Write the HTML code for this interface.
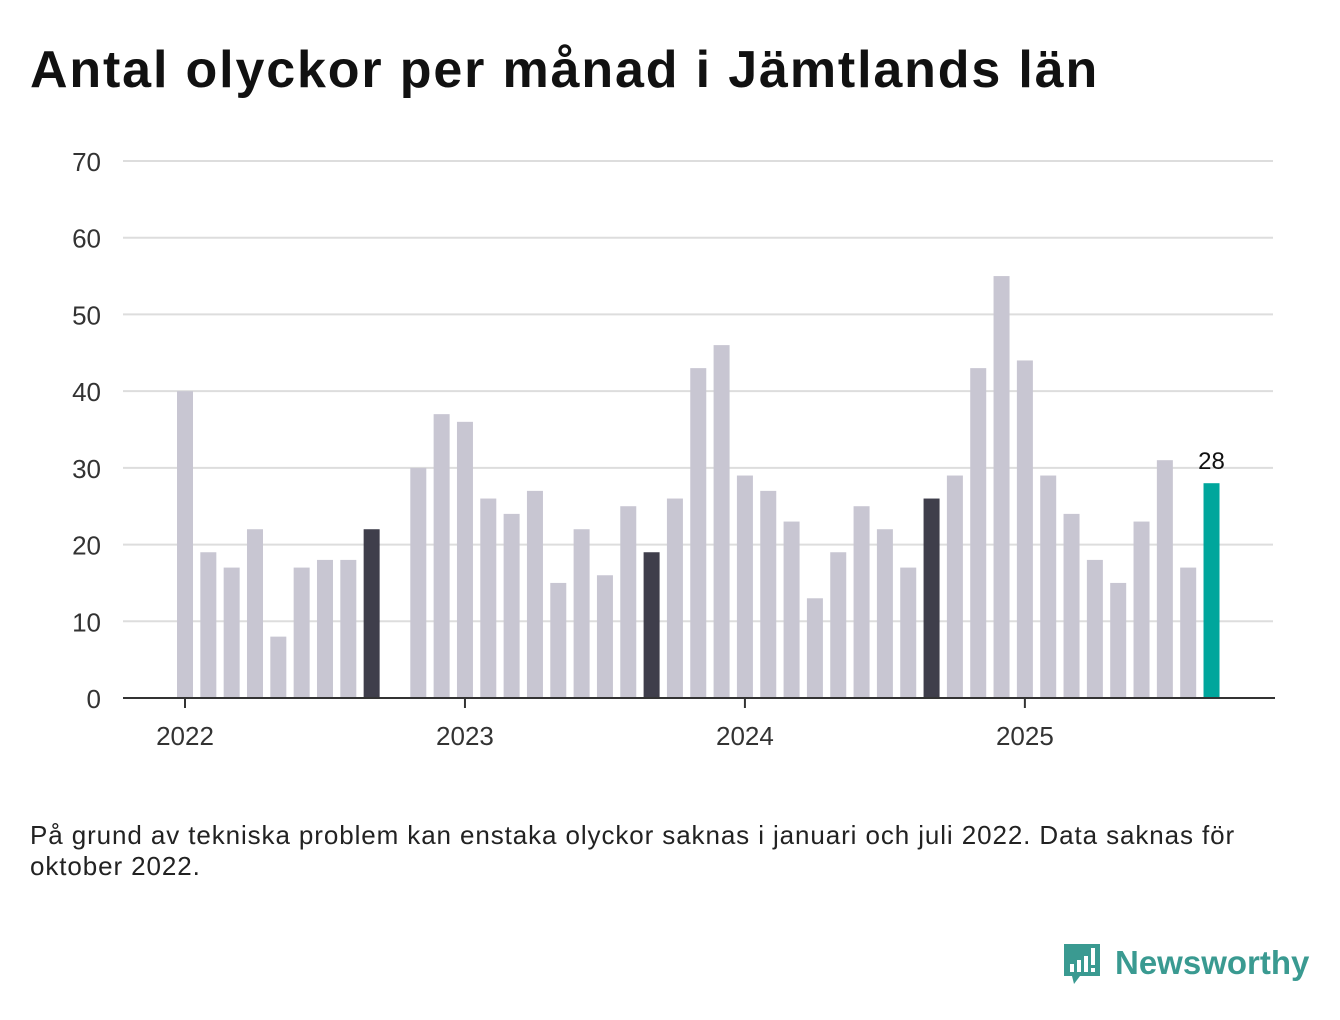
<!DOCTYPE html>
<html><head><meta charset="utf-8"><style>
body{margin:0;width:1340px;height:1020px;background:#fff;font-family:"Liberation Sans",sans-serif;overflow:hidden;position:relative}
h1{position:absolute;left:30px;top:40px;margin:0;font-size:52px;font-weight:bold;color:#111;letter-spacing:1.85px}
#note{position:absolute;left:30px;top:820px;font-size:26px;color:#222;line-height:31px;width:1260px;letter-spacing:0.9px}
#logo{position:absolute;left:1062px;top:942px}
</style></head><body>
<h1>Antal olyckor per månad i Jämtlands län</h1>
<svg id="chart" width="1340" height="1020" style="position:absolute;left:0;top:0"></svg>
<div id="note">På grund av tekniska problem kan enstaka olyckor saknas i januari och juli 2022. Data saknas för<br>oktober 2022.</div>
<svg id="logo" width="250" height="50">
<path d="M2 2h36v32H18l-6 8-2-8H2z" fill="#3a9a91"/>
<rect x="8" y="22" width="4" height="8" fill="#fff"/><rect x="15" y="18" width="4" height="12" fill="#fff"/><rect x="22" y="14" width="4" height="16" fill="#fff"/><rect x="29" y="6" width="4" height="17" fill="#fff"/><rect x="29" y="26" width="4" height="4" fill="#fff"/>
<text x="53" y="32" font-size="33" font-weight="bold" fill="#3a9a91" font-family="Liberation Sans, sans-serif">Newsworthy</text>
</svg>
<script>
const values=[40,19,17,22,8,17,18,18,22,null,30,37,36,26,24,27,15,22,16,25,19,26,43,46,29,27,23,13,19,25,22,17,26,29,43,55,44,29,24,18,15,23,31,17,28];
const yTicks=[0,10,20,30,40,50,60,70];
const yearLabels=["2022","2023","2024","2025"];
const NS="http://www.w3.org/2000/svg";
const svg=document.getElementById('chart');
const y=v=>698-v*(537/70);
const x=i=>185+i*23.33;
function mk(t,a){const e=document.createElementNS(NS,t);for(const k in a)e.setAttribute(k,a[k]);svg.appendChild(e);return e;}
yTicks.forEach(t=>{
 if(t>0){const l=mk('line',{x1:123,x2:1273,y1:y(t),y2:y(t),stroke:'#ddd','stroke-width':2});
 
 }
 const tx=mk('text',{x:101,y:y(t)+10,'text-anchor':'end','font-size':26,fill:'#333'});tx.textContent=t;
 
 
});
values.forEach((v,i)=>{
 if(v===null)return;
 const last=i===values.length-1;
 const col=last?'#00a69c':(i%12===8?'#3f3e4b':'#c8c6d2');
 const r=mk('rect',{x:x(i)-8,y:y(v),width:16,height:698-y(v),fill:col});
 
 
 if(last){const t=mk('text',{x:x(i),y:y(v)-14,'text-anchor':'middle','font-size':24,fill:'#111'});t.textContent=v;
 
 }
});
const ax=mk('line',{x1:123,x2:1275,y1:698,y2:698,stroke:'#333','stroke-width':2});


yearLabels.forEach((yl,k)=>{
 const i=k*12;
 const tk=mk('line',{x1:x(i),x2:x(i),y1:698,y2:708,stroke:'#333','stroke-width':2});
 
 
 const t=mk('text',{x:x(i),y:745,'text-anchor':'middle','font-size':26,fill:'#333'});t.textContent=yl;
 
 
});
</script>
</body></html>
